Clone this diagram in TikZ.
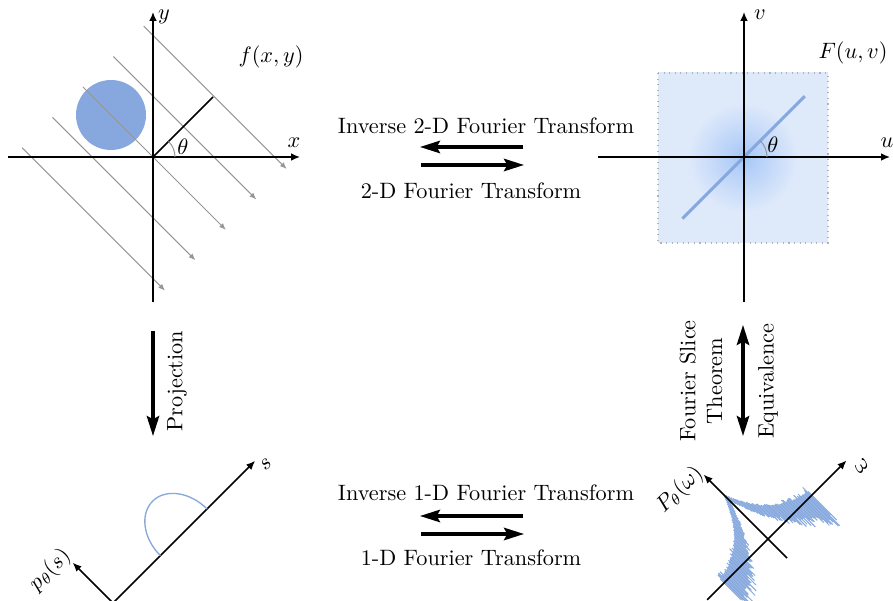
\documentclass[tikz,border=0pt]{standalone}
\usepackage{amsmath, amssymb}
\usepackage{tikz}
\usetikzlibrary{arrows.meta, calc}
\definecolor{phantomblue}{RGB}{134, 168, 222}
\definecolor{raygray}{RGB}{150, 150, 150}
\definecolor{paleblue}{RGB}{222, 233, 250}
\definecolor{glowblue}{RGB}{165, 198, 248}
\pgfdeclareradialshading{glow}{\pgfpoint{0bp}{0bp}}{color(0bp)=(glowblue); color(6bp)=(glowblue!60!paleblue); color(16bp)=(paleblue); color(50bp)=(paleblue)}

\begin{document}
\begin{tikzpicture}[x=0.0158cm, y=0.0158cm,
    axis/.style={-{Latex[length=4pt, width=3.4pt]}, line width=0.65pt},
    ray/.style={-{Latex[length=3pt, width=2.4pt]}, raygray, line width=0.45pt},
    bigarrow/.style={-{Stealth[length=9pt, width=5.6pt, inset=1.5pt]}, line width=1.4pt},
    botharrow/.style={{Stealth[length=9pt, width=5.6pt, inset=1.5pt]}-{Stealth[length=9pt, width=5.6pt, inset=1.5pt]}, line width=1.4pt},
    spec/.style={phantomblue, line width=0.45pt},
    lbl/.style={inner sep=1pt}]
  \useasboundingbox (0,0) rectangle (893,-601);
  \pgfmathsetseed{42}

  % Object f(x,y)
  \coordinate (O1) at (153,-157);
  \coordinate (x0) at (8,-157);  \coordinate (x1) at (300,-157);
  \coordinate (y0) at (153,-302); \coordinate (y1) at (153,-12);
  \fill[phantomblue] (111,-115) circle (35);
  \begin{scope}[shift={(O1)}, rotate=45]
    \foreach \s in {-86,-43,0,43,86}
      \draw[ray] (\s,99) -- (\s,-103);
    \draw[line width=0.65pt] (0,0) -- (85,0);
  \end{scope}
  \draw[axis] (x0) -- (x1);
  \draw[axis] (y0) -- (y1);
  \draw[raygray, line width=0.45pt] ($(O1)+(22,0)$) arc (0:45:22);
  \node[lbl] (xlab) at (294,-143) {$x$};
  \node[lbl] (ylab) at (164,-17) {$y$};
  \node[lbl] (thA) at (183,-147) {$\theta$};
  \node[lbl] (flab) at (271,-57) {$f(x,y)$};

  % Spectrum F(u,v)
  \coordinate (O2) at (744,-157);
  \coordinate (u0) at (598,-157); \coordinate (u1) at (890,-157);
  \coordinate (v0) at (744,-302); \coordinate (v1) at (744,-12);
  \shade[shading=glow] (658,-73) rectangle (828,-243);
  \draw[gray!60, dotted, line width=0.5pt] (658,-73) rectangle (828,-243);
  \begin{scope}[shift={(O2)}, rotate=45]
    \draw[phantomblue, line width=1.3pt] (-87,0) -- (86,0);
  \end{scope}
  \draw[axis] (u0) -- (u1);
  \draw[axis] (v0) -- (v1);
  \draw[raygray, line width=0.45pt] ($(O2)+(23,0)$) arc (0:45:23);
  \node[lbl] (ulab) at (887,-143) {$u$};
  \node[lbl] (vlab) at (760,-15) {$v$};
  \node[lbl] (thB) at (773,-145) {$\theta$};
  \node[lbl] (Flab) at (853,-53) {$F(u,v)$};

  % 2-D transforms
  \coordinate (a1) at (523,-147); \coordinate (a2) at (420,-147);
  \coordinate (b1) at (421,-165); \coordinate (b2) at (524,-165);
  \draw[bigarrow] (a1) -- (a2);
  \draw[bigarrow] (b1) -- (b2);
  \node[lbl] (inv2) at (486,-126) {Inverse 2-D Fourier Transform};
  \node[lbl] (fwd2) at (471,-191) {2-D Fourier Transform};

  % Projection and slice theorem
  \coordinate (p1) at (153,-331); \coordinate (p2) at (153,-436);
  \draw[bigarrow] (p1) -- (p2);
  \node[lbl, rotate=90] (projlab) at (177,-381) {Projection};
  \coordinate (e1) at (743,-325); \coordinate (e2) at (743,-436);
  \draw[botharrow] (e1) -- (e2);
  \node[lbl, rotate=90, align=center] (fstlab) at (701,-381) {Fourier Slice\\Theorem};
  \node[lbl, rotate=90] (eqlab) at (768,-381) {Equivalence};

  % Projection p(s)
  \coordinate (O3) at (113,-603);
  \begin{scope}[shift={(O3)}, rotate=45]
    \coordinate (s1) at (201,0); \coordinate (q1) at (0,57);
    \draw[axis] (0,0) -- (s1);
    \draw[axis] (0,0) -- (q1);
    \draw[phantomblue, line width=0.6pt] (133,0) arc[start angle=0, end angle=180, x radius=33, y radius=44];
  \end{scope}
  \node[lbl, rotate=45] (slab) at (266,-464) {$s$};
  \node[lbl, rotate=45] (plab) at (50,-570) {$p_\theta(s)$};

  % Spectrum of the projection P(omega)
  \coordinate (O4) at (768,-539);
  \begin{scope}[shift={(O4)}, rotate=45]
    \foreach \w in {-62,-61,...,62} {
      \pgfmathsetmacro\ptop{63*exp(-abs(\w)/24)+0.15*abs(\w)*rnd*rnd}
      \pgfmathsetmacro\pbot{63*exp(-abs(\w)/24)-9-0.3*abs(\w)-0.35*abs(\w)*rnd}
      \draw[spec] (\w,\ptop) -- (\w,\pbot);
    }
    \coordinate (w0) at (-86,0); \coordinate (w1) at (111,0);
    \coordinate (P0) at (0,-27); \coordinate (P1) at (0,91);
    \draw[axis] (w0) -- (w1);
    \draw[axis] (P0) -- (P1);
  \end{scope}
  \node[lbl, rotate=45] (wlab) at (862,-466) {$\omega$};
  \node[lbl, rotate=45] (Plab) at (680,-490) {$P_\theta(\omega)$};

  % 1-D transforms
  \coordinate (c1) at (523,-516); \coordinate (c2) at (420,-516);
  \coordinate (d1) at (421,-534); \coordinate (d2) at (524,-534);
  \draw[bigarrow] (c1) -- (c2);
  \draw[bigarrow] (d1) -- (d2);
  \node[lbl] (inv1) at (486,-493) {Inverse 1-D Fourier Transform};
  \node[lbl] (fwd1) at (471,-558) {1-D Fourier Transform};
\end{tikzpicture}
\end{document}
